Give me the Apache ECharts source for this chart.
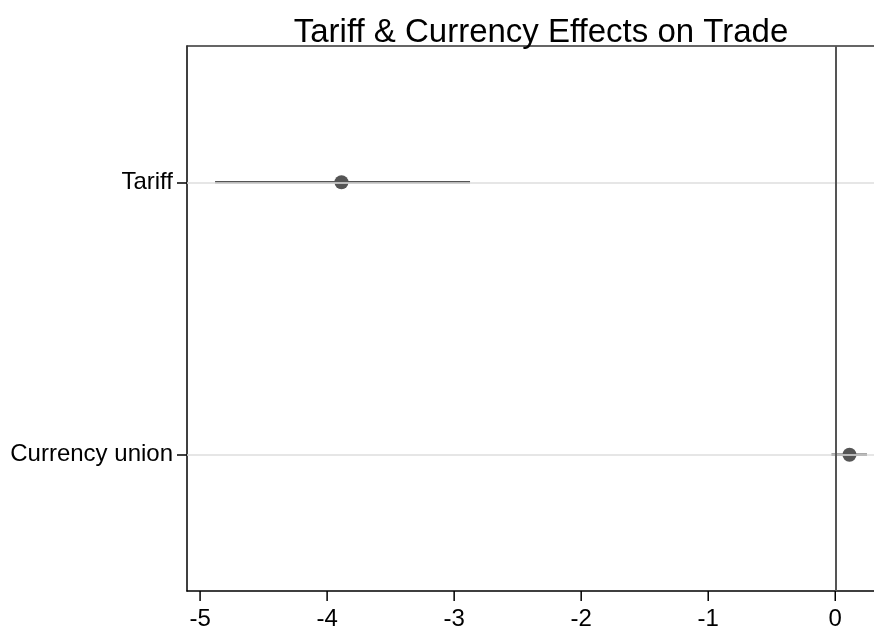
<!DOCTYPE html>
<html>
<head>
<meta charset="utf-8">
<script src="https://cdn.jsdelivr.net/npm/echarts@6/dist/echarts.min.js"></script>
<style>html,body{margin:0;padding:0;background:#fff;overflow:hidden}#c{width:874px;height:632px}</style>
</head>
<body>
<div id="c"></div>
<script>
const categories = ['Tariff', 'Currency union'];
const estimates = [-3.887, 0.112];
const ciLow = [-4.882, -0.03];
const ciHigh = [-2.875, 0.25];
const xTicks = [-5, -4, -3, -2, -1, 0];
const titleText = 'Tariff & Currency Effects on Trade';

const FONT = '"Liberation Sans", Arial, sans-serif';
const GRAY = '#555555';
const chart = echarts.init(document.getElementById('c'), null, {renderer: 'canvas'});

const ciSeries = categories.map((c, i) => ({
  type: 'line', z: 3, silent: true, symbol: 'none',
  data: [[ciLow[i], c], [ciHigh[i], c]],
  lineStyle: {color: GRAY, width: 2.6, opacity: 1}
}));

chart.setOption({
  animation: false,
  backgroundColor: '#fff',
  title: {
    text: titleText, left: 536, top: 11, textAlign: 'center',
    textStyle: {fontFamily: FONT, fontSize: 33, fontWeight: 'normal', color: '#000'}
  },
  grid: {left: 187, right: 0, top: 46, bottom: 41, show: false, containLabel: false},
  xAxis: [{
    type: 'value', min: -5.103, max: 0.305, position: 'bottom',
    axisLine: {show: true, onZero: false, lineStyle: {color: '#000', width: 1.5}},
    axisTick: {show: false},
    axisLabel: {customValues: xTicks, margin: 16, fontFamily: FONT, fontSize: 24, color: '#000'},
    splitLine: {show: false}
  }, {
    type: 'value', min: -5.103, max: 0.305, position: 'top',
    axisLine: {show: true, onZero: false, lineStyle: {color: '#333', width: 1.5}},
    axisTick: {show: false}, axisLabel: {show: false}, splitLine: {show: false}
  }],
  yAxis: {
    type: 'category', data: categories, inverse: true, position: 'left',
    axisLine: {show: true, onZero: false, lineStyle: {color: '#000', width: 1.5}},
    axisTick: {show: true, inside: false, alignWithLabel: true, length: 10, lineStyle: {color: '#000', width: 1.5}},
    axisLabel: {margin: 14, fontFamily: FONT, fontSize: 24, color: '#000'},
    splitLine: {show: false}
  },
  series: [
    {
      type: 'scatter', data: [], silent: true, z: 1,
      markLine: {
        silent: true, symbol: 'none', label: {show: false}, animation: false,
        lineStyle: {color: '#dedede', width: 1.5, type: 'solid'},
        data: categories.map(c => ({yAxis: c}))
      }
    },
    {
      type: 'scatter', data: [], silent: true, z: 2,
      markLine: {
        silent: true, symbol: 'none', label: {show: false}, animation: false,
        lineStyle: {color: '#555', width: 2, type: 'solid'},
        data: [{xAxis: 0}]
      }
    }
  ].concat(ciSeries).concat([
    {
      type: 'scatter', z: 4, silent: true,
      data: categories.map((c, i) => [estimates[i], c]),
      symbol: 'circle', symbolSize: 14,
      itemStyle: {color: GRAY, opacity: 1}
    }
  ])
});

// x-axis tick marks, positioned through the library's own x scale
let gridRect = null;
try {
  gridRect = chart.getModel().getComponent('grid', 0).coordinateSystem.getRect();
} catch (e) { gridRect = null; }
const axisBottom = gridRect ? gridRect.y + gridRect.height : chart.getHeight() - 41;
const tickGraphics = xTicks.map(v => {
  const px = chart.convertToPixel({xAxisIndex: 0}, v);
  return {
    type: 'line', silent: true, z: 100,
    shape: {x1: px, y1: axisBottom, x2: px, y2: axisBottom + 10},
    style: {stroke: '#000', lineWidth: 1.5}
  };
});
chart.setOption({graphic: tickGraphics});
</script>
</body>
</html>
